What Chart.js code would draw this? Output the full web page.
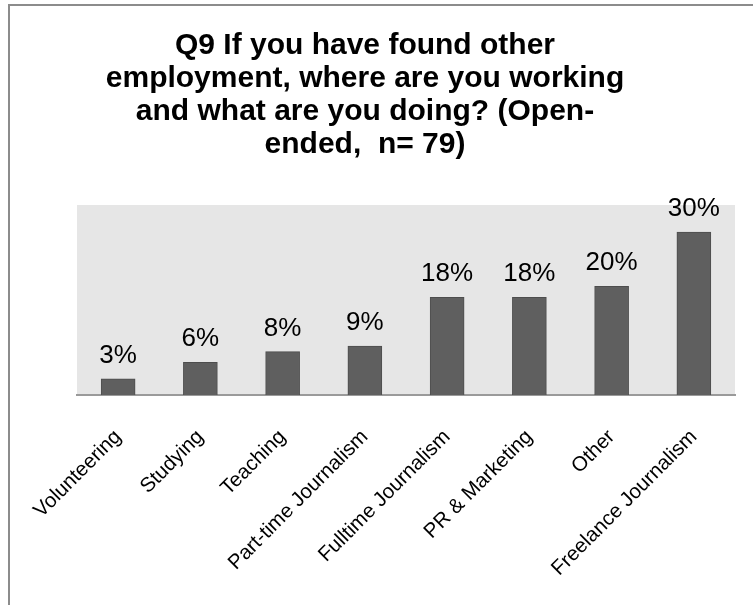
<!DOCTYPE html>
<html>
<head>
<meta charset="utf-8">
<script src="https://cdn.jsdelivr.net/npm/chart.js@4.4.1/dist/chart.umd.min.js"></script>
<style>
    html, body { margin: 0; padding: 0; background: #fff; overflow: hidden; width: 753px; height: 605px; }
    #frame { position: absolute; left: 8px; top: 4px; width: 800px; height: 700px; border: 2px solid #8c8c8c; box-sizing: border-box; }
    #employment_chart { position: absolute; left: -23px; top: 0; }
</style>
</head>
<body>
<div id="frame"></div>
<canvas id="employment_chart" width="776" height="605"></canvas>
<script>
// 回答カテゴリ
const categories = [
    'Volunteering',
    'Studying',
    'Teaching',
    'Part-time Journalism',
    'Fulltime Journalism',
    'PR & Marketing',
    'Other',
    'Freelance Journalism'
];
// 回答割合（%）
const shares = [3, 6, 8, 9, 18, 18, 20, 30];
// 縦軸の範囲（%）
const yRange = [0, 35];
// タイトル
const titleLines = [
    'Q9 If you have found other',
    'employment, where are you working',
    'and what are you doing? (Open-',
    'ended,  n= 79)'
];

const fontFamily = '"Liberation Sans", Arial, Helvetica, sans-serif';

// プロット領域の背景
const plotBackground = {
    id: 'plotBackground',
    beforeDraw(chart) {
        const { ctx, chartArea } = chart;
        ctx.save();
        ctx.fillStyle = '#e6e6e6';
        ctx.fillRect(chartArea.left, chartArea.top, chartArea.right - chartArea.left, chartArea.bottom - chartArea.top);
        ctx.restore();
    }
};

// 棒の上に値を表示
const valueLabels = {
    id: 'valueLabels',
    afterDatasetsDraw(chart) {
        const { ctx } = chart;
        const meta = chart.getDatasetMeta(0);
        ctx.save();
        ctx.font = '26px ' + fontFamily;
        ctx.fillStyle = '#000';
        ctx.textAlign = 'center';
        ctx.textBaseline = 'alphabetic';
        meta.data.forEach((bar, i) => {
            ctx.fillText(chart.data.datasets[0].data[i] + '%', bar.x, bar.y - 16);
        });
        ctx.restore();
    }
};

function createChart() {
    const ctx = document.getElementById('employment_chart').getContext('2d');
    new Chart(ctx, {
        type: 'bar',
        data: {
            labels: categories,
            datasets: [{
                data: shares,
                backgroundColor: '#5f5f5f',
                borderColor: '#4d4d4d',
                borderWidth: 1,
                barThickness: 34
            }]
        },
        options: {
            responsive: false,
            animation: false,
            devicePixelRatio: 1,
            layout: { padding: 0 },
            scales: {
                x: {
                    grid: { display: false },
                    border: { display: true, color: '#9a9a9a', width: 2 },
                    ticks: {
                        autoSkip: false,
                        minRotation: 45,
                        maxRotation: 45,
                        padding: 22,
                        color: '#000',
                        font: { family: fontFamily, size: 20.5 }
                    },
                    // 横軸の高さと左右の余白を固定
                    afterFit(scale) {
                        scale.height = 210;
                        scale.paddingLeft = 100;
                        scale.paddingRight = 18;
                    }
                },
                y: {
                    display: false,
                    min: yRange[0],
                    max: yRange[1]
                }
            },
            plugins: {
                legend: { display: false },
                tooltip: { enabled: false },
                title: {
                    display: true,
                    text: titleLines,
                    color: '#000',
                    font: { family: fontFamily, size: 30, weight: 'bold', lineHeight: '33px' },
                    padding: { top: 29, bottom: 44 }
                }
            }
        },
        plugins: [plotBackground, valueLabels]
    });
}

createChart();
</script>
</body>
</html>
